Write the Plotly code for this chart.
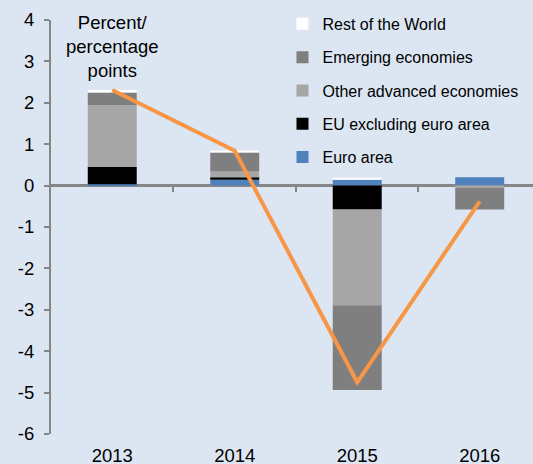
import plotly.graph_objects as go

years = ["2013", "2014", "2015", "2016"]
euro_area = [0.03, 0.14, 0.14, 0.20]
eu_ex_euro = [0.42, 0.06, -0.58, 0.0]
other_adv = [1.49, 0.14, -2.31, -0.06]
emerging = [0.31, 0.46, -2.05, -0.52]
rest_world = [0.06, 0.05, 0.05, 0.0]
total = [2.31, 0.84, -4.75, -0.38]
y_ticks = [4, 3, 2, 1, 0, -1, -2, -3, -4, -5, -6]
y_tick_text = ["4", "3", "2", "1", "0", "-1", "-2", "-3", "-4", "-5", "-6"]

series = [
    ("Euro area", euro_area, "#4f81bd", 5),
    ("EU excluding euro area", eu_ex_euro, "#000000", 4),
    ("Other advanced economies", other_adv, "#a6a6a6", 3),
    ("Emerging economies", emerging, "#7f7f7f", 2),
    ("Rest of the World", rest_world, "#ffffff", 1),
]

FONT = "Arial, Liberation Sans, sans-serif"
fig = go.Figure()
for name, vals, col, rank in series:
    fig.add_trace(go.Bar(
        x=years, y=vals, name=name, legendgroup=name, legendrank=rank,
        marker=dict(color=col, line=dict(width=0)),
        width=0.4,
    ))
fig.add_trace(go.Scatter(
    x=years, y=total, mode="lines", showlegend=False,
    line=dict(color="#f79646", width=4),
))
# boundary ticks on the zero line
fig.add_trace(go.Scatter(x=[], y=[], xaxis="x2", showlegend=False, hoverinfo="skip"))

fig.update_layout(
    width=533, height=464,
    margin=dict(l=51, r=0, t=20, b=30, autoexpand=False),
    paper_bgcolor="#dce6f2", plot_bgcolor="#dce6f2",
    barmode="relative",
    font=dict(family=FONT, size=18, color="#000000"),
    xaxis=dict(type="category", range=[-0.5, 3.435], showgrid=False, showline=False,
               zeroline=False, ticks="", ticklabelstandoff=8,
               tickfont=dict(size=18.5), automargin=False),
    xaxis2=dict(overlaying="x", anchor="free", position=0.6, range=[-0.5, 3.435],
                tickvals=[0.5, 1.5, 2.5], ticks="outside", ticklen=5, tickwidth=2,
                tickcolor="#868686", showticklabels=False, showline=False,
                showgrid=False, zeroline=False),
    yaxis=dict(range=[-6, 4], tickvals=y_ticks, ticktext=y_tick_text, showgrid=False,
               showline=True, linecolor="#868686", linewidth=2, ticks="outside",
               ticklen=5, tickwidth=2, tickcolor="#868686", zeroline=True,
               zerolinecolor="#868686", zerolinewidth=2.5,
               tickfont=dict(size=18.5), ticklabelstandoff=6, automargin=False),
    legend=dict(xref="container", yref="container", x=0.53, y=0.985,
                xanchor="left", yanchor="top", traceorder="grouped",
                tracegroupgap=9.5, bgcolor="rgba(0,0,0,0)",
                font=dict(size=16, family=FONT)),
    bargap=0.6,
    showlegend=True,
)
fig.add_annotation(
    x=0, y=1.025, xref="x", yref="paper", yanchor="top", showarrow=False,
    text="Percent/<br>percentage<br>points", font=dict(size=18.5, family=FONT),
)
fig.write_html("out.html", config={"displayModeBar": False},
               post_script="document.body.style.margin='0';")
